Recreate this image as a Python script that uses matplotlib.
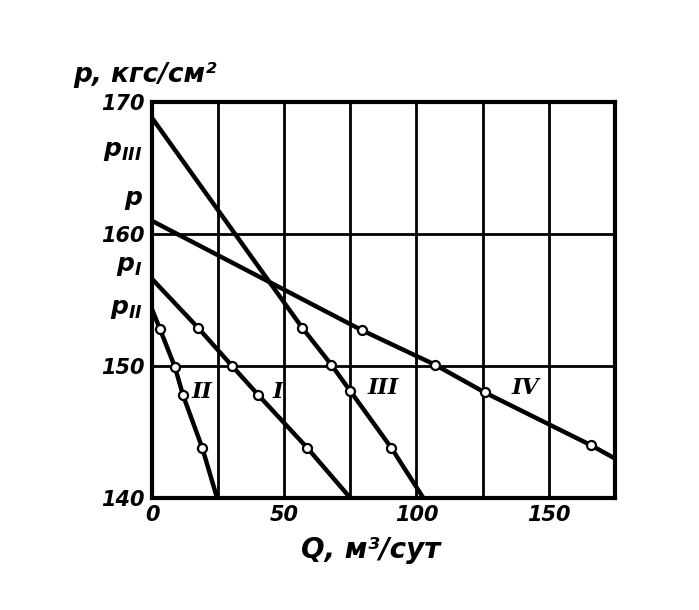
import matplotlib
matplotlib.use('Agg')
import matplotlib.pyplot as plt
import matplotlib.transforms as mtransforms

plt.rcParams['font.family'] = ['DejaVu Sans']
plt.rcParams['mathtext.fontset'] = 'custom'
plt.rcParams['mathtext.it'] = 'DejaVu Sans:bold:italic'
plt.rcParams['mathtext.rm'] = 'DejaVu Sans:bold:italic'

# curves p(Q): endpoints on the axes plus measured points
q_I = [0, 17.4, 30.3, 40.2, 58.7, 75]
p_I = [156.6, 152.9, 150.0, 147.8, 143.8, 140]
q_II = [0, 3, 8.7, 11.7, 19, 24.6]
p_II = [154.3, 152.8, 149.9, 147.8, 143.8, 140]
q_III = [0, 56.8, 67.8, 75, 90.5, 102.6]
p_III = [168.8, 152.9, 150.1, 148.1, 143.8, 140]
q_IV = [0, 79.5, 107, 125.8, 166, 175]
p_IV = [161.0, 152.7, 150.1, 148.0, 144.0, 143.0]

curve_names = ['I', 'II', 'III', 'IV']
name_q = [47.7, 19, 87.5, 141]
name_p = [148, 148, 148.3, 148.3]

xticks = [0, 50, 100, 150]
yticks = [140, 150, 160, 170]
p_marks = [r'$p_{III}$', r'$p$', r'$p_{I}$', r'$p_{II}$']
p_marks_y = [166.3, 162.6, 157.6, 154.3]

fig = plt.figure(figsize=(6.99, 6.10), dpi=100)
ax = fig.add_axes([0.2175, 0.1836, 0.662, 0.649])
ax.set_xlim(0, 175)
ax.set_ylim(140, 170)

# grid
for x in [25, 50, 75, 100, 125, 150]:
    ax.axvline(x, color='black', lw=2.0, zorder=1)
for y in [150, 160]:
    ax.axhline(y, color='black', lw=2.0, zorder=1)

for q, p in [(q_I, p_I), (q_II, p_II), (q_III, p_III), (q_IV, p_IV)]:
    ax.plot(q, p, color='black', lw=3.2, zorder=3, solid_capstyle='butt')
    ax.plot(q[1:-1], p[1:-1], 'o', ms=6.5, mfc='white', mec='black', mew=1.6, zorder=4)

for name, x, y in zip(curve_names, name_q, name_p):
    ax.text(x, y, name, fontsize=16, fontweight='bold', style='italic',
            family='DejaVu Serif', ha='center', va='center')

for s in ax.spines.values():
    s.set_linewidth(3)

ax.set_xticks(xticks)
ax.set_xticklabels([str(t) for t in xticks])
ax.set_yticks(yticks)
ax.set_yticklabels([str(t) for t in yticks])
ax.tick_params(length=0, labelsize=15, pad=5)
for lab in ax.get_xticklabels() + ax.get_yticklabels():
    lab.set_fontstyle('italic')
    lab.set_fontweight('bold')

trans = mtransforms.blended_transform_factory(ax.transAxes, ax.transData)
for txt, y in zip(p_marks, p_marks_y):
    ax.text(-0.02, y, txt, transform=trans, fontsize=18, ha='right', va='center')

fig.text(0.105, 0.865, 'p, кгс/см²', fontsize=19, style='italic', fontweight='bold')
fig.text(0.43, 0.085, 'Q, м³/сут', fontsize=20, style='italic', fontweight='bold')

fig.savefig('out.png', dpi=100)
